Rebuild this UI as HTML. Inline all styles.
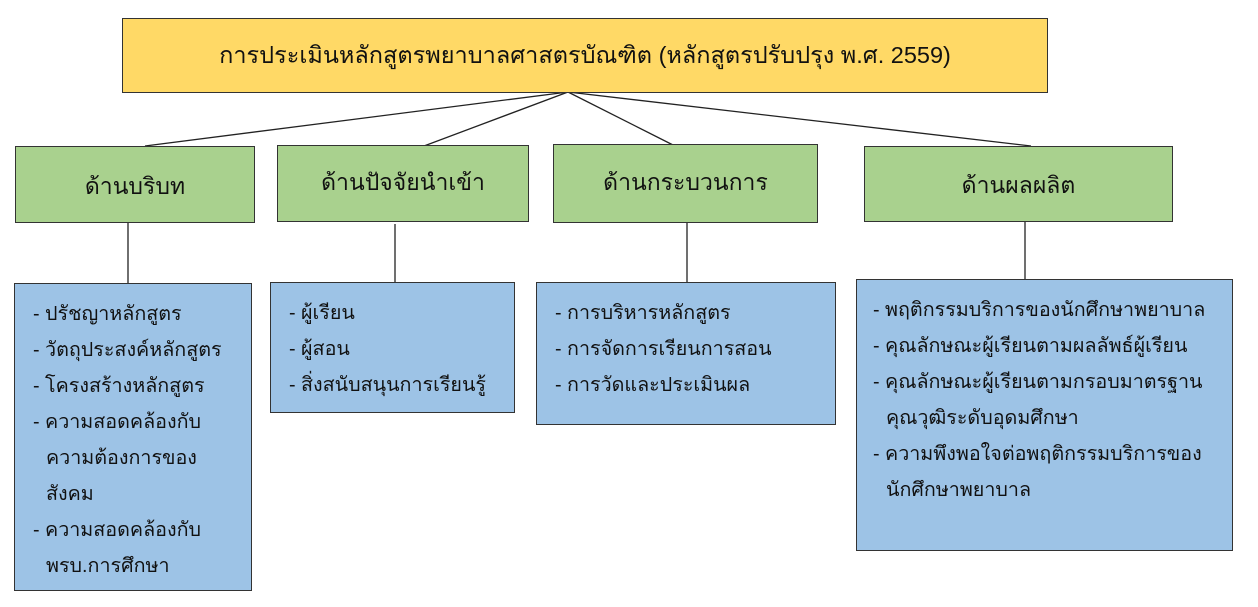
<!DOCTYPE html>
<html><head><meta charset="utf-8"><style>
body{margin:0;width:1258px;height:607px;background:#fff;position:relative;overflow:hidden;font-family:"Liberation Sans","Noto Sans CJK SC",sans-serif;color:#111}
.b{position:absolute;box-sizing:border-box;border:1.5px solid #333}
.y{background:#FFD966}
.g{background:#A9D18E;text-align:center;font-size:23px}
.u{background:#9DC3E6;font-size:19.7px;line-height:36px;padding-top:12px;padding-left:18px}
.u div{white-space:nowrap}
.i{padding-left:13px}
</style></head><body>
<svg width="1258" height="607" style="position:absolute;left:0;top:0">
<g stroke="#222" stroke-width="1.3" fill="none">
<line x1="568" y1="92" x2="145" y2="146"/>
<line x1="568" y1="92" x2="424" y2="146"/>
<line x1="568" y1="92" x2="673" y2="145"/>
<line x1="568" y1="92" x2="1031" y2="146"/>
<line x1="128" y1="223" x2="128" y2="283"/>
<line x1="395" y1="224" x2="395" y2="282"/>
<line x1="687" y1="223" x2="687" y2="282"/>
<line x1="1025" y1="222" x2="1025" y2="280"/>
</g></svg>
<div class="b y" style="left:122px;top:18px;width:926px;height:75px;font-size:23.5px;line-height:72px;text-align:center">การประเมินหลักสูตรพยาบาลศาสตรบัณฑิต (หลักสูตรปรับปรุง พ.ศ. 2559)</div>
<div class="b g" style="left:15px;top:146px;width:240px;height:77px;line-height:78px">ด้านบริบท</div>
<div class="b g" style="left:277px;top:145px;width:252px;height:77px;line-height:72px">ด้านปัจจัยนำเข้า</div>
<div class="b g" style="left:553px;top:144px;width:265px;height:79px;line-height:74px">ด้านกระบวนการ</div>
<div class="b g" style="left:864px;top:146px;width:309px;height:76px;line-height:76px">ด้านผลผลิต</div>
<div class="b u" style="left:14px;top:283px;width:238px;height:308px">
<div>- ปรัชญาหลักสูตร</div><div>- วัตถุประสงค์หลักสูตร</div><div>- โครงสร้างหลักสูตร</div><div>- ความสอดคล้องกับ</div><div class="i">ความต้องการของ</div><div class="i">สังคม</div><div>- ความสอดคล้องกับ</div><div class="i">พรบ.การศึกษา</div></div>
<div class="b u" style="left:270px;top:282px;width:245px;height:131px">
<div>- ผู้เรียน</div><div>- ผู้สอน</div><div>- สิ่งสนับสนุนการเรียนรู้</div></div>
<div class="b u" style="left:536px;top:282px;width:300px;height:143px">
<div>- การบริหารหลักสูตร</div><div>- การจัดการเรียนการสอน</div><div>- การวัดและประเมินผล</div></div>
<div class="b u" style="left:856px;top:279px;width:377px;height:272px;padding-left:16px">
<div>- พฤติกรรมบริการของนักศึกษาพยาบาล</div><div>- คุณลักษณะผู้เรียนตามผลลัพธ์ผู้เรียน</div><div>- คุณลักษณะผู้เรียนตามกรอบมาตรฐาน</div><div class="i">คุณวุฒิระดับอุดมศึกษา</div><div>- ความพึงพอใจต่อพฤติกรรมบริการของ</div><div class="i">นักศึกษาพยาบาล</div></div>
</body></html>
